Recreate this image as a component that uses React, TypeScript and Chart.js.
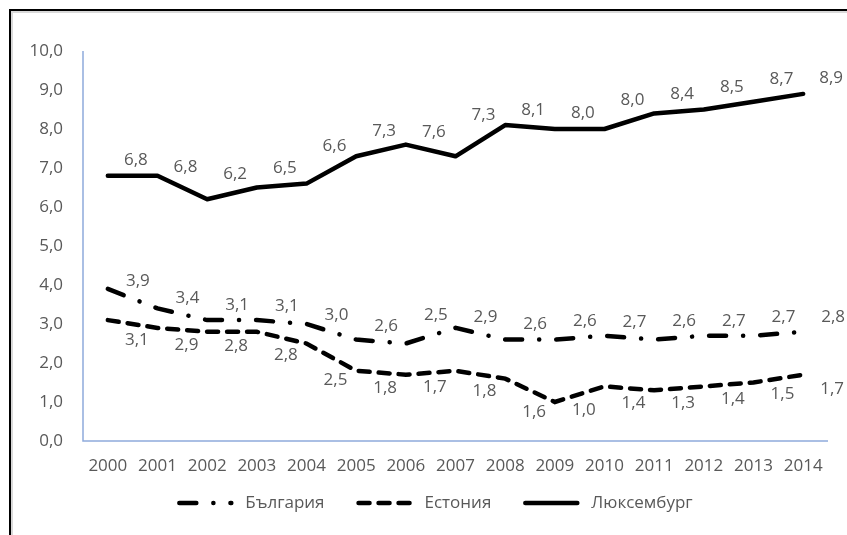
import React, { useEffect, useRef } from 'react';
import { Chart, registerables } from 'chart.js';

Chart.register(...registerables);

const years = ['2000', '2001', '2002', '2003', '2004', '2005', '2006', '2007', '2008', '2009', '2010', '2011', '2012', '2013', '2014'];
const bulgaria = [3.9, 3.4, 3.1, 3.1, 3.0, 2.6, 2.5, 2.9, 2.6, 2.6, 2.7, 2.6, 2.7, 2.7, 2.8];
const estonia = [3.1, 2.9, 2.8, 2.8, 2.5, 1.8, 1.7, 1.8, 1.6, 1.0, 1.4, 1.3, 1.4, 1.5, 1.7];
const luxembourg = [6.8, 6.8, 6.2, 6.5, 6.6, 7.3, 7.6, 7.3, 8.1, 8.0, 8.0, 8.4, 8.5, 8.7, 8.9];
const seriesNames = ['България', 'Естония', 'Люксембург'];
const yMin = 0;
const yMax = 10;
const yStep = 1;

const FONT = '"Open Sans", "Noto Sans", sans-serif';
const FS = 17;
const TEXT = '#595959';
const AXIS = '#8FAADC';

const fmt = (v: number) => v.toFixed(1).replace('.', ',');

// label placement per series: side (-1 above, +1 below), x shift, clearance from line
const labelStyle = [
  { side: -1, dx: 30, gap: 15 },
  { side: 1, dx: 29, gap: 14 },
  { side: -1, dx: 28, gap: 16 },
];

const frame = {
  id: 'frame',
  beforeDraw(chart: any) {
    const { ctx, width, height } = chart;
    ctx.save();
    ctx.fillStyle = '#fff';
    ctx.fillRect(0, 0, width, height);
    ctx.fillStyle = '#d9d9d9';
    ctx.fillRect(11, 11, width - 11, 2);
    ctx.fillRect(11, 11, 2, height - 11);
    ctx.fillStyle = '#000';
    ctx.fillRect(9, 9, width - 9, 2);
    ctx.fillRect(9, 9, 2, height - 9);
    ctx.restore();
  },
  beforeDatasetsDraw(chart: any) {
    const { ctx, chartArea } = chart;
    ctx.save();
    ctx.strokeStyle = AXIS;
    ctx.lineWidth = 1.5;
    ctx.beginPath();
    ctx.moveTo(chartArea.left, chartArea.top);
    ctx.lineTo(chartArea.left, chartArea.bottom);
    ctx.lineTo(chartArea.right, chartArea.bottom);
    ctx.stroke();
    ctx.restore();
  },
};

const dataLabels = {
  id: 'dataLabels',
  afterDatasetsDraw(chart: any) {
    const { ctx } = chart;
    ctx.save();
    ctx.fillStyle = TEXT;
    ctx.font = `${FS}px ${FONT}`;
    ctx.textAlign = 'center';
    ctx.textBaseline = 'middle';
    chart.data.datasets.forEach((ds: any, i: number) => {
      const meta = chart.getDatasetMeta(i);
      const st = labelStyle[i];
      const pts = meta.data;
      const lineYAt = (x: number) => {
        for (let k = 0; k < pts.length - 1; k++) {
          const a = pts[k], b = pts[k + 1];
          if (x >= a.x && x <= b.x) return a.y + (b.y - a.y) * (x - a.x) / (b.x - a.x);
        }
        return x < pts[0].x ? pts[0].y : pts[pts.length - 1].y;
      };
      pts.forEach((el: any, j: number) => {
        const text = fmt(ds.data[j]);
        const cx = el.x + st.dx;
        const hw = ctx.measureText(text).width / 2;
        const samples = [cx - hw, cx, cx + hw].map(lineYAt);
        const ref = st.side < 0 ? Math.min(...samples) : Math.max(...samples);
        ctx.fillText(text, cx, ref + st.side * st.gap);
      });
    });
    ctx.restore();
  },
};

const customLegend = {
  id: 'customLegend',
  afterDraw(chart: any) {
    const { ctx } = chart;
    ctx.save();
    ctx.font = `${FS}px ${FONT}`;
    const sampleW = 56;
    const textGap = 12;
    const itemGap = 32;
    const widths = chart.data.datasets.map((ds: any) => sampleW + textGap + ctx.measureText(ds.label).width);
    const total = widths.reduce((a: number, b: number) => a + b, 0) + itemGap * (widths.length - 1);
    let x = 435 - total / 2;
    const y = 503;
    chart.data.datasets.forEach((ds: any, i: number) => {
      ctx.save();
      ctx.strokeStyle = ds.borderColor;
      ctx.lineWidth = ds.borderWidth;
      ctx.lineCap = ds.borderCapStyle || 'butt';
      ctx.setLineDash(ds.borderDash || []);
      ctx.beginPath();
      ctx.moveTo(x + 2, y);
      ctx.lineTo(x + sampleW - 2, y);
      ctx.stroke();
      ctx.restore();
      ctx.fillStyle = TEXT;
      ctx.textAlign = 'left';
      ctx.textBaseline = 'middle';
      ctx.fillText(ds.label, x + sampleW + textGap, y);
      x += widths[i] + itemGap;
    });
    ctx.restore();
  },
};

export default function App() {
  const ref = useRef<HTMLCanvasElement | null>(null);
  useEffect(() => {
    document.body.style.margin = '0';
    const canvas = ref.current!;
    const chart = new Chart(canvas, {
      type: 'line',
      data: {
        labels: years,
        datasets: [
          {
            label: seriesNames[0],
            data: bulgaria,
            borderColor: '#000',
            borderWidth: 4.5,
            borderDash: [17, 17, 0.1, 17],
            borderCapStyle: 'round',
            pointRadius: 0,
            fill: false,
            tension: 0,
          },
          {
            label: seriesNames[1],
            data: estonia,
            borderColor: '#000',
            borderWidth: 4.5,
            borderDash: [11, 9],
            borderCapStyle: 'round',
            pointRadius: 0,
            fill: false,
            tension: 0,
          },
          {
            label: seriesNames[2],
            data: luxembourg,
            borderColor: '#000',
            borderWidth: 4.5,
            borderCapStyle: 'round',
            borderJoinStyle: 'round',
            pointRadius: 0,
            fill: false,
            tension: 0,
          },
        ],
      },
      options: {
        responsive: false,
        animation: false,
        devicePixelRatio: 1,
        layout: { padding: { top: 51, right: 19, left: 0, bottom: 0 } },
        plugins: { legend: { display: false }, tooltip: { enabled: false } },
        scales: {
          x: {
            offset: true,
            grid: { display: false, drawTicks: false },
            border: { display: false },
            ticks: { color: TEXT, font: { family: FONT, size: FS }, padding: 15, maxRotation: 0, autoSkip: false },
            afterFit: (s: any) => { s.height = 94; },
          },
          y: {
            min: yMin,
            max: yMax,
            grid: { display: false, drawTicks: false },
            border: { display: false },
            ticks: {
              stepSize: yStep,
              color: TEXT,
              font: { family: FONT, size: FS },
              padding: 20,
              callback: (v: any) => fmt(Number(v)),
            },
            afterFit: (s: any) => { s.width = 83; },
          },
        },
      },
      plugins: [frame, dataLabels, customLegend],
    });
    return () => chart.destroy();
  }, []);
  return (
    <div style={{ position: 'absolute', left: 0, top: 0, width: 847, height: 535 }}>
      <canvas ref={ref} width={847} height={535} style={{ width: 847, height: 535, display: 'block' }} />
    </div>
  );
}
